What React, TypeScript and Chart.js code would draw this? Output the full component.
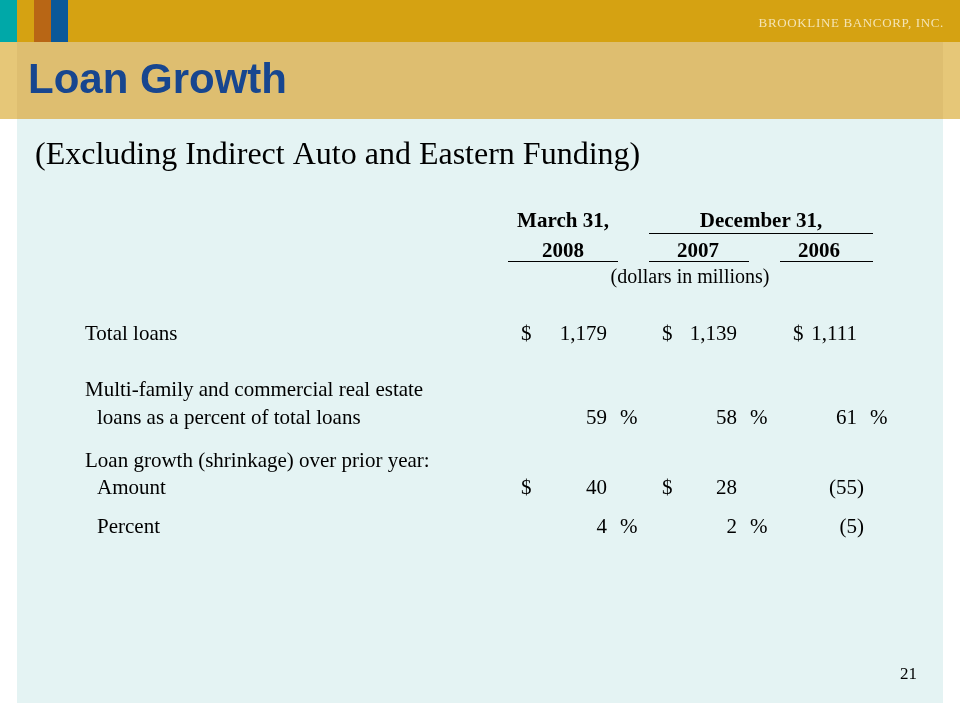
import React, { useEffect, useRef } from 'react';
import { Chart, registerables } from 'chart.js';

Chart.register(...registerables);

// ---- content ----
const slideTitle = 'Loan Growth';
const companyName = 'BROOKLINE BANCORP, INC.';
const subtitle = '(Excluding Indirect Auto and Eastern Funding)';
const pageNumber = '21';

const columns = ['2008', '2007', '2006'];
const periodHeads = ['March 31,', 'December 31,'];
const unitNote = '(dollars in millions)';

const rowLabels = [
  'Total loans',
  'Multi-family and commercial real estate',
  'loans as a percent of total loans',
  'Loan growth (shrinkage) over prior year:',
  'Amount',
  'Percent',
];

const totalLoans = [1179, 1139, 1111];
const mfCrePct = [59, 58, 61];
const growthAmount = [40, 28, -55];
const growthPct = [4, 2, -5];

// ---- layout (scale units, not data) ----
const COL_X = [0, 1.04, 2];
const LABEL_LINE_Y = [4, 6, 7, 8.55, 9.5, 10.9];
const LABEL_INDENT = [false, false, true, false, true, true];
const VALUE_ROW_Y = { total: 4, mf: 7, amount: 9.5, pct: 10.9 };
const LABEL_X = -4.176;
const INDENT_X = -4.08;

const FONT_SERIF = '"Liberation Serif", "Times New Roman", serif';
const FONT_SANS = '"Liberation Sans", Arial, sans-serif';

const fmt = (n: number) => Math.abs(n).toLocaleString('en-US');

const backgroundPlugin = {
  id: 'slideBackground',
  beforeDraw(chart: any) {
    const ctx = chart.ctx as CanvasRenderingContext2D;
    ctx.save();
    ctx.fillStyle = '#ffffff';
    ctx.fillRect(0, 0, 960, 720);
    // top band
    ctx.fillStyle = '#D5A212';
    ctx.fillRect(0, 0, 960, 42);
    ctx.fillStyle = '#00A8A8';
    ctx.fillRect(0, 0, 17, 42);
    ctx.fillStyle = '#B86615';
    ctx.fillRect(34, 0, 17, 42);
    ctx.fillStyle = '#0B5899';
    ctx.fillRect(51, 0, 17, 42);
    // title band
    ctx.fillStyle = '#DEBE70';
    ctx.fillRect(0, 42, 960, 77);
    ctx.fillStyle = '#E6C778';
    ctx.fillRect(0, 42, 17, 77);
    ctx.fillRect(943, 42, 17, 77);
    // panel
    ctx.fillStyle = '#E4F3F3';
    ctx.fillRect(17, 119, 926, 584);
    ctx.restore();
  },
  afterDraw(chart: any) {
    const ctx = chart.ctx as CanvasRenderingContext2D;
    ctx.save();
    ctx.textBaseline = 'alphabetic';
    // company name
    ctx.fillStyle = '#F4E4B4';
    ctx.font = `13px ${FONT_SERIF}`;
    ctx.textAlign = 'right';
    (ctx as any).letterSpacing = '0.65px';
    ctx.fillText(companyName, 944, 27);
    (ctx as any).letterSpacing = '0px';
    // title
    ctx.fillStyle = '#17468F';
    ctx.font = `bold 42px ${FONT_SANS}`;
    ctx.textAlign = 'left';
    ctx.fillText(slideTitle, 28, 93);
    // subtitle
    ctx.fillStyle = '#000000';
    ctx.font = `32px ${FONT_SERIF}`;
    ctx.fillText(subtitle, 35, 164);
    // page number
    ctx.font = `17px ${FONT_SERIF}`;
    ctx.textAlign = 'right';
    ctx.fillText(pageNumber, 917, 679);
    ctx.restore();
  },
};

const tablePlugin = {
  id: 'tableText',
  afterDatasetsDraw(chart: any) {
    const ctx = chart.ctx as CanvasRenderingContext2D;
    const xs = chart.scales.x;
    const ys = chart.scales.y;
    ctx.save();
    ctx.fillStyle = '#000000';
    ctx.strokeStyle = '#000000';
    ctx.textBaseline = 'middle';

    const colPx = COL_X.map((c) => xs.getPixelForValue(c));
    const headCenter = [-44, -39, -38];
    const underline = [[-99, 11], [-88, 12], [-77, 16]];

    // headers
    ctx.font = `bold 21px ${FONT_SERIF}`;
    ctx.textAlign = 'center';
    ctx.fillText(periodHeads[0], colPx[0] + headCenter[0], ys.getPixelForValue(0));
    const decL = colPx[1] + underline[1][0];
    const decR = colPx[2] + underline[2][1];
    ctx.fillText(periodHeads[1], (decL + decR) / 2, ys.getPixelForValue(0));
    ctx.lineWidth = 1;
    const uy1 = Math.round(ys.getPixelForValue(0.39)) + 0.5;
    ctx.beginPath();
    ctx.moveTo(decL, uy1);
    ctx.lineTo(decR, uy1);
    ctx.stroke();
    const uy2 = Math.round(ys.getPixelForValue(1.39)) + 0.5;
    columns.forEach((c, i) => {
      ctx.fillText(c, colPx[i] + headCenter[i], ys.getPixelForValue(1.04));
      ctx.beginPath();
      ctx.moveTo(colPx[i] + underline[i][0], uy2);
      ctx.lineTo(colPx[i] + underline[i][1], uy2);
      ctx.stroke();
    });
    ctx.font = `20px ${FONT_SERIF}`;
    ctx.fillText(unitNote, xs.getPixelForValue(0.664), ys.getPixelForValue(2));

    // row labels
    ctx.font = `21px ${FONT_SERIF}`;
    ctx.textAlign = 'left';
    rowLabels.forEach((t, i) => {
      const x = xs.getPixelForValue(LABEL_INDENT[i] ? INDENT_X : LABEL_X);
      ctx.fillText(t, x, ys.getPixelForValue(LABEL_LINE_Y[i]));
    });

    // values
    const dollarDx = [-86, -75, -64];
    const pctDx = 13;
    chart.data.datasets.forEach((ds: any, di: number) => {
      const meta = chart.getDatasetMeta(di);
      meta.data.forEach((el: any, i: number) => {
        const raw = ds.data[i];
        const v = raw.v as number;
        const x = el.x;
        const y = el.y;
        ctx.textAlign = 'right';
        if (v < 0) {
          ctx.fillText('(' + fmt(v), x, y);
          ctx.textAlign = 'left';
          ctx.fillText(')', x, y);
          return;
        }
        ctx.fillText(fmt(v), x, y);
        ctx.textAlign = 'left';
        if (ds.kind === 'money') ctx.fillText('$', x + dollarDx[i], y);
        else ctx.fillText('%', x + pctDx, y);
      });
    });
    ctx.restore();
  },
};

export default function App() {
  const ref = useRef<HTMLCanvasElement | null>(null);
  useEffect(() => {
    if (!ref.current) return;
    const mk = (vals: number[], y: number) => vals.map((v, i) => ({ x: COL_X[i], y, v }));
    const chart = new Chart(ref.current, {
      type: 'scatter',
      data: {
        datasets: [
          { label: rowLabels[0], data: mk(totalLoans, VALUE_ROW_Y.total), kind: 'money' } as any,
          { label: rowLabels[2], data: mk(mfCrePct, VALUE_ROW_Y.mf), kind: 'pct' } as any,
          { label: rowLabels[4], data: mk(growthAmount, VALUE_ROW_Y.amount), kind: 'money' } as any,
          { label: rowLabels[5], data: mk(growthPct, VALUE_ROW_Y.pct), kind: 'pct' } as any,
        ],
      },
      options: {
        animation: false,
        responsive: false,
        events: [],
        layout: { padding: { left: 607, right: 103, top: 222, bottom: 190 } },
        elements: { point: { radius: 0, hoverRadius: 0 } },
        scales: {
          x: { type: 'linear', min: 0, max: 2, display: false },
          y: { type: 'linear', min: 0, max: 11, reverse: true, display: false },
        },
        plugins: { legend: { display: false }, tooltip: { enabled: false }, title: { display: false } },
      },
      plugins: [backgroundPlugin, tablePlugin],
    });
    return () => chart.destroy();
  }, []);
  return (
    <div style={{ position: 'fixed', left: 0, top: 0, width: 960, height: 720, background: '#fff' }}>
      <canvas ref={ref} width={960} height={720} style={{ display: 'block', width: 960, height: 720 }} />
    </div>
  );
}
